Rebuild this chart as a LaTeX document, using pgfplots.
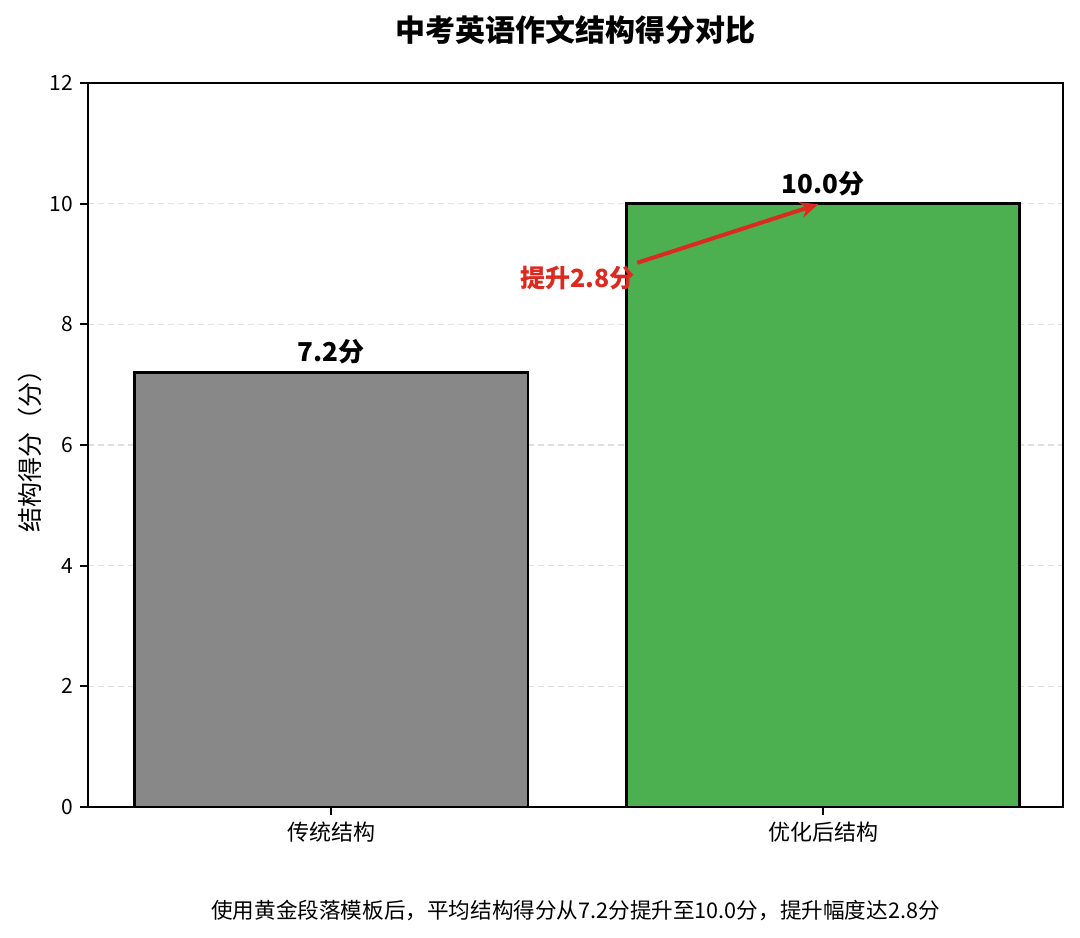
\documentclass[border=0pt]{standalone}
\usepackage{fontspec}
\setmainfont{Noto Sans CJK SC}
\usepackage{pgfplots}
\pgfplotsset{compat=1.18}
\usetikzlibrary{calc,arrows.meta}
\definecolor{barGray}{HTML}{888888}
\definecolor{barGreen}{HTML}{4CAF50}
\definecolor{annRed}{HTML}{DC2A20}
\begin{document}
\begin{tikzpicture}
\begin{axis}[
  name=ax,
  scale only axis,
  width=487.5pt, height=362pt,
  xmin=-0.495, xmax=1.488,
  ymin=0, ymax=12,
  xtick={0,1},
  xticklabels={传统结构,优化后结构},
  ytick={0,2,4,6,8,10,12},
  /pgf/number format/assume math mode=true,
  tick align=outside,
  major tick length=4pt,
  tick pos=left,
  major tick style={black, line width=0.9pt},
  axis line style={line width=0.9pt},
  ymajorgrids=true,
  major grid style={dashed, dash pattern=on 3pt off 2pt, black!12, line width=0.6pt},
  tick label style={font=\fontsize{10.5}{12}\selectfont},
  xticklabel style={font=\fontsize{11}{13}\selectfont},
  ylabel={结构得分（分）},
  ylabel style={at={(axis description cs:-0.0595,0.5)}, anchor=center, font=\fontsize{12.5}{14}\selectfont},
  title={中考英语作文结构得分对比},
  title style={at={(axis description cs:0.5,1)}, anchor=center, yshift=20.5pt, font=\bfseries\fontsize{15}{18}\selectfont},
  nodes near coords={\pgfmathprintnumber[fixed,fixed zerofill,precision=1]{\pgfplotspointmeta}分},
  nodes near coords style={font=\bfseries\fontsize{13}{15}\selectfont, black},
  point meta=y,
]
\addplot[ybar, bar shift=0pt, bar width=0.8, fill=barGray, draw=black, line width=1.4pt]
  coordinates {(0,7.2)};
\addplot[ybar, bar shift=0pt, bar width=0.8, fill=barGreen, draw=black, line width=1.4pt]
  coordinates {(1,10.0)};
\draw[-{Stealth[length=9pt,width=8pt]}, annRed, line width=2pt]
  (axis cs:0.622,9.02) -- (axis cs:0.99,9.99);
\node[annRed, font=\bfseries\fontsize{12.5}{15}\selectfont, anchor=center]
  at (axis cs:0.5,8.77) {提升2.8分};
\end{axis}
\node[font=\fontsize{10.8}{13}\selectfont, anchor=center] at ($(ax.south)+(0,-51.5pt)$)
  {使用黄金段落模板后，平均结构得分从7.2分提升至10.0分，提升幅度达2.8分};
\pgfresetboundingbox
\path[use as bounding box] ($(ax.south west)+(-44pt,-65pt)$) rectangle ($(ax.north east)+(8.5pt,41.5pt)$);
\end{tikzpicture}
\end{document}
